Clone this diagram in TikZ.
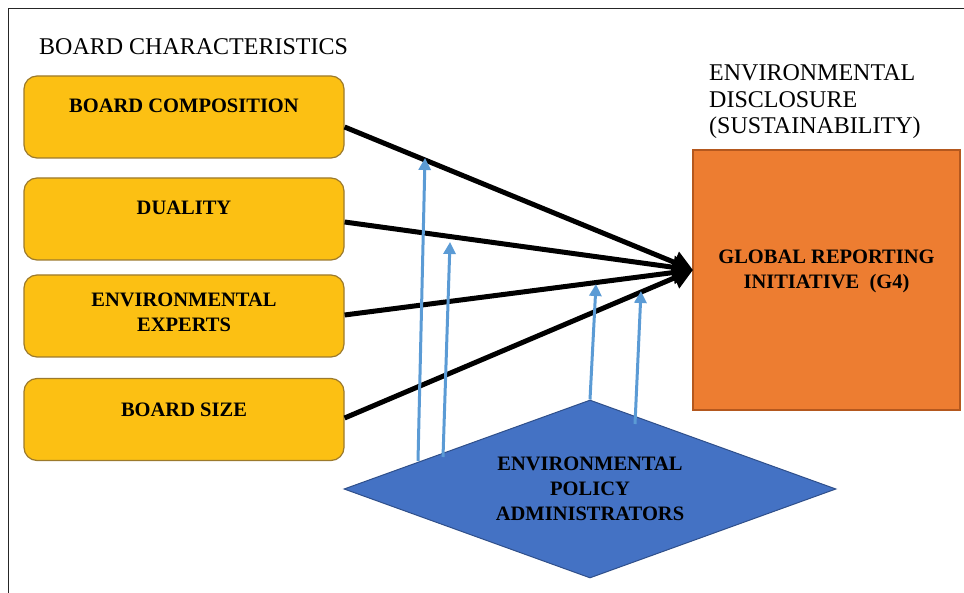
\documentclass[tikz,border=0pt]{standalone}
\usepackage{fontspec}
\setmainfont{Liberation Serif}
\usetikzlibrary{shapes.geometric,arrows.meta,calc}
\definecolor{gold}{HTML}{FCC013}
\definecolor{goldline}{HTML}{9C7A2C}
\definecolor{orng}{HTML}{ED7D31}
\definecolor{orngline}{HTML}{B4581E}
\definecolor{dblue}{HTML}{4472C4}
\definecolor{dblueline}{HTML}{2F4F8A}
\definecolor{lblue}{HTML}{5B9BD5}
\begin{document}
\begin{tikzpicture}[x=1pt,y=-1pt,
 boxshape/.style={draw=goldline,line width=1.2pt,fill=gold,rounded corners=13pt,minimum width=320pt,minimum height=82pt,inner sep=0pt},
 boxtext/.style={font=\bfseries\fontsize{20.5}{25}\selectfont,align=center,inner sep=0pt},
 headtext/.style={font=\fontsize{24}{26.5}\selectfont,align=left,inner sep=0pt},
 mainarrow/.style={line width=5pt,-{Triangle[length=20pt,width=22pt]}},
 modarrow/.style={lblue,line width=3pt,-{Triangle[length=12pt,width=12pt]}},
]
\useasboundingbox (0,0) rectangle (964,593);
\draw[line width=1pt,black!85] (8,593) -- (8,9) -- (964,9);

\node[headtext,anchor=west] (title) at (39,47) {BOARD CHARACTERISTICS};

\node[boxshape] (b1) at (184,117) {};
\node[boxshape] (b2) at (184,219) {};
\node[boxshape] (b3) at (184,316) {};
\node[boxshape] (b4) at (184,419.5) {};
\node[boxtext] (t1) at (184,106) {BOARD COMPOSITION};
\node[boxtext] (t2) at (184,208) {DUALITY};
\node[boxtext] (t3) at (184,312.5) {ENVIRONMENTAL\\EXPERTS};
\node[boxtext] (t4) at (184,410) {BOARD SIZE};

\node[headtext,anchor=west] (head) at (709,102) {ENVIRONMENTAL\\DISCLOSURE\\(SUSTAINABILITY)};

\node[draw=orngline,line width=1.2pt,fill=orng,minimum width=267pt,minimum height=260pt,inner sep=0pt] (gri) at (826.5,280) {};
\node[boxtext] (grit) at (826.5,271) {GLOBAL REPORTING\\INITIATIVE\ \ (G4)};

\coordinate (tip) at (693,270);
\draw[mainarrow] ($(b1.east)+(0,10)$) -- (tip);
\draw[mainarrow] ($(b2.east)+(0,3)$) -- (tip);
\draw[mainarrow] ($(b3.east)+(0,-1)$) -- (tip);
\draw[mainarrow] ($(b4.east)+(0,-1.5)$) -- (tip);

\node[diamond,draw=dblueline,line width=1pt,fill=dblue,aspect=2.76,minimum width=492pt,minimum height=178pt,inner sep=0pt,boxtext] (epa) at (590,489) {ENVIRONMENTAL\\POLICY\\ADMINISTRATORS};

\coordinate (m1s) at (418,461);
\coordinate (m1e) at (425,158);
\coordinate (m2s) at (443,457);
\coordinate (m2e) at (450,242);
\coordinate (m3s) at (epa.north);
\coordinate (m3e) at (596,284);
\coordinate (m4s) at (635,424);
\coordinate (m4e) at (641,291);
\draw[modarrow] (m1s) -- (m1e);
\draw[modarrow] (m2s) -- (m2e);
\draw[modarrow] (m3s) -- (m3e);
\draw[modarrow] (m4s) -- (m4e);
\end{tikzpicture}
\end{document}
